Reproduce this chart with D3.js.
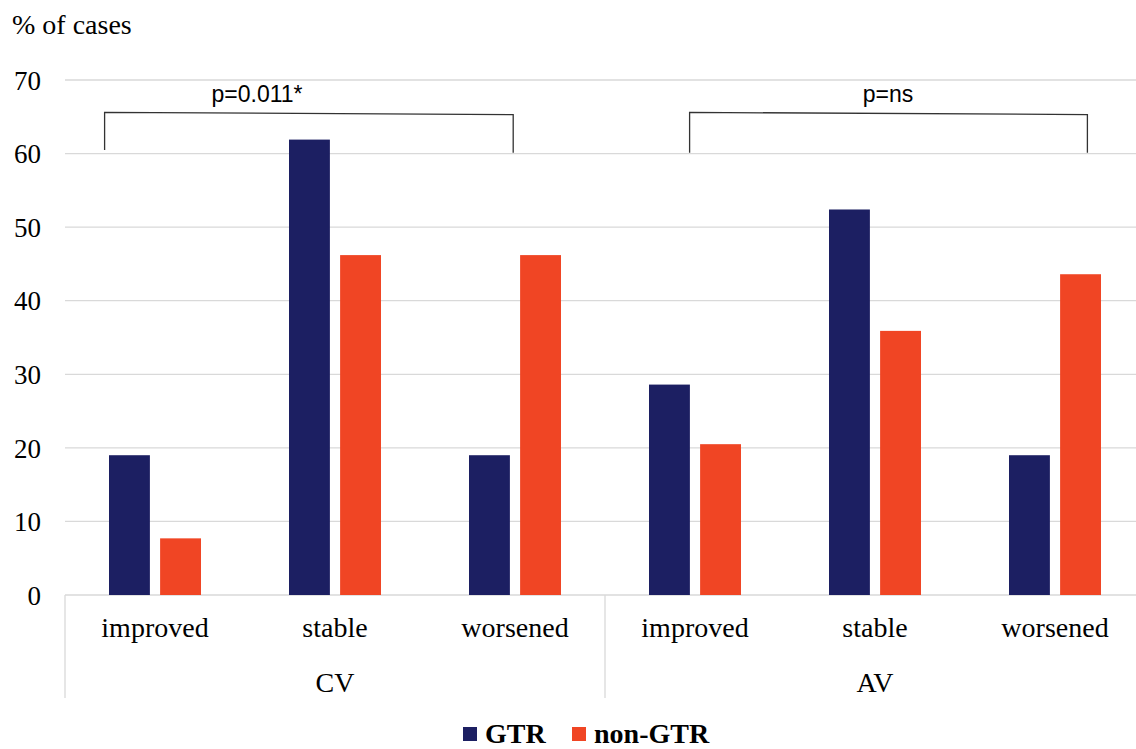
<!DOCTYPE html>
<html><head><meta charset="utf-8">
<script src="https://cdn.jsdelivr.net/npm/d3@7"></script>
<style>
html,body{margin:0;padding:0;background:#fff;}
svg{display:block;}
</style></head>
<body>
<svg id="chart" width="1136" height="749"></svg>
<script>
// ---- data ----
const groups = ["CV", "AV"];
const outcomes = ["improved", "stable", "worsened"];
const seriesNames = ["GTR", "non-GTR"];
const gtrValues = [19.0, 61.9, 19.0, 28.6, 52.4, 19.0];
const nonGtrValues = [7.7, 46.2, 46.2, 20.5, 35.9, 43.6];
const yTicks = [0, 10, 20, 30, 40, 50, 60, 70];
const pLabels = ["p=0.011*", "p=ns"];
// annotation placement in category units (0..6) and value units
const pLabelX = [1.067, 4.572];
const bracketX = [[0.22, 2.49], [3.47, 5.68]];
const bracketTop = [[65.6, 65.3], [65.6, 65.3]];
const bracketBottom = [[60.5, 60.1], [60.1, 60.1]];

const colors = {"GTR": "#1c1f62", "non-GTR": "#f04524"};
const serif = "Liberation Serif, Times New Roman, serif";
const sans = "Liberation Sans, Arial, sans-serif";

const svg = d3.select("#chart");
const mLeft = 65, mRight = 1145, mTop = 80, mBottom = 595;

const cats = [];
groups.forEach(g => outcomes.forEach(o => cats.push(g + "|" + o)));
const rows = cats.map((c, i) => ({cat: c, values: [
  {s: "GTR", v: gtrValues[i]}, {s: "non-GTR", v: nonGtrValues[i]}]}));

const x0 = d3.scaleBand().domain(cats).range([mLeft, mRight]).padding(0);
const xc = d3.scaleLinear().domain([0, 6]).range([mLeft, mRight]);
const x1 = d3.scaleBand().domain(seriesNames).range([-46, 46]).paddingInner(0.2);
const y = d3.scaleLinear().domain([0, 70]).range([mBottom, mTop]);

// gridlines
svg.append("g").selectAll("line").data(yTicks).join("line")
  .attr("x1", mLeft).attr("x2", 1136)
  .attr("y1", d => y(d)).attr("y2", d => y(d))
  .attr("stroke", "#d9d9d9").attr("stroke-width", 1.3);

// y axis labels
const yAxis = d3.axisLeft(y).tickValues(yTicks).tickSize(0).tickPadding(0);
const ya = svg.append("g").attr("transform", "translate(41,0)").call(yAxis)
  .attr("font-family", serif).attr("font-size", 27);
ya.select(".domain").remove();
ya.selectAll("text").attr("font-family", serif).attr("font-size", 27)
  .attr("fill", "#000").attr("dy", "0.34em");

// y title
svg.append("text").attr("x", 12).attr("y", 34).text("% of cases")
  .attr("font-family", serif).attr("font-size", 28).attr("fill", "#000");

// bars
const bg = svg.append("g").selectAll("g").data(rows).join("g")
  .attr("transform", d => `translate(${x0(d.cat) + x0.bandwidth() / 2},0)`);
bg.selectAll("rect").data(d => d.values).join("rect")
  .attr("x", d => x1(d.s)).attr("width", x1.bandwidth())
  .attr("y", d => y(d.v)).attr("height", d => y(0) - y(d.v))
  .attr("fill", d => colors[d.s]);

// category axis box lines
const axisG = svg.append("g");
[0, 3, 6].forEach(i => {
  axisG.append("line").attr("x1", xc(i)).attr("x2", xc(i))
    .attr("y1", mBottom).attr("y2", 698).attr("stroke", "#d9d9d9").attr("stroke-width", 1.3);
});
// category labels
axisG.selectAll("text.cat").data(cats).join("text").attr("class", "cat")
  .attr("x", d => x0(d) + x0.bandwidth() / 2).attr("y", 637)
  .attr("text-anchor", "middle").attr("font-family", serif).attr("font-size", 28)
  .text(d => d.split("|")[1]);
axisG.selectAll("text.grp").data(groups).join("text").attr("class", "grp")
  .attr("x", (d, i) => xc(i * 3 + 1.5)).attr("y", 692)
  .attr("text-anchor", "middle").attr("font-family", serif).attr("font-size", 28)
  .text(d => d);

// brackets
groups.forEach((g, i) => {
  const [a, b] = bracketX[i];
  const pts = [[xc(a), y(bracketBottom[i][0])], [xc(a), y(bracketTop[i][0])],
               [xc(b), y(bracketTop[i][1])], [xc(b), y(bracketBottom[i][1])]];
  svg.append("path").attr("d", d3.line()(pts)).attr("fill", "none")
    .attr("stroke", "#333").attr("stroke-width", 1.3);
  svg.append("text").attr("x", xc(pLabelX[i])).attr("y", 102)
    .attr("text-anchor", "middle").attr("font-family", sans).attr("font-size", 23)
    .attr("fill", "#000").text(pLabels[i]);
});

// legend
const lg = svg.append("g").attr("transform", "translate(463,743)");
const legendItems = [{s: "GTR", x: 0}, {s: "non-GTR", x: 109}];
const li = lg.selectAll("g").data(legendItems).join("g")
  .attr("transform", d => `translate(${d.x},0)`);
li.append("rect").attr("x", 0).attr("y", -16).attr("width", 14).attr("height", 14)
  .attr("fill", d => colors[d.s]);
li.append("text").attr("x", 22).attr("y", 0).attr("font-family", serif)
  .attr("font-weight", "bold").attr("font-size", 28).text(d => d.s);
</script>
</body></html>
